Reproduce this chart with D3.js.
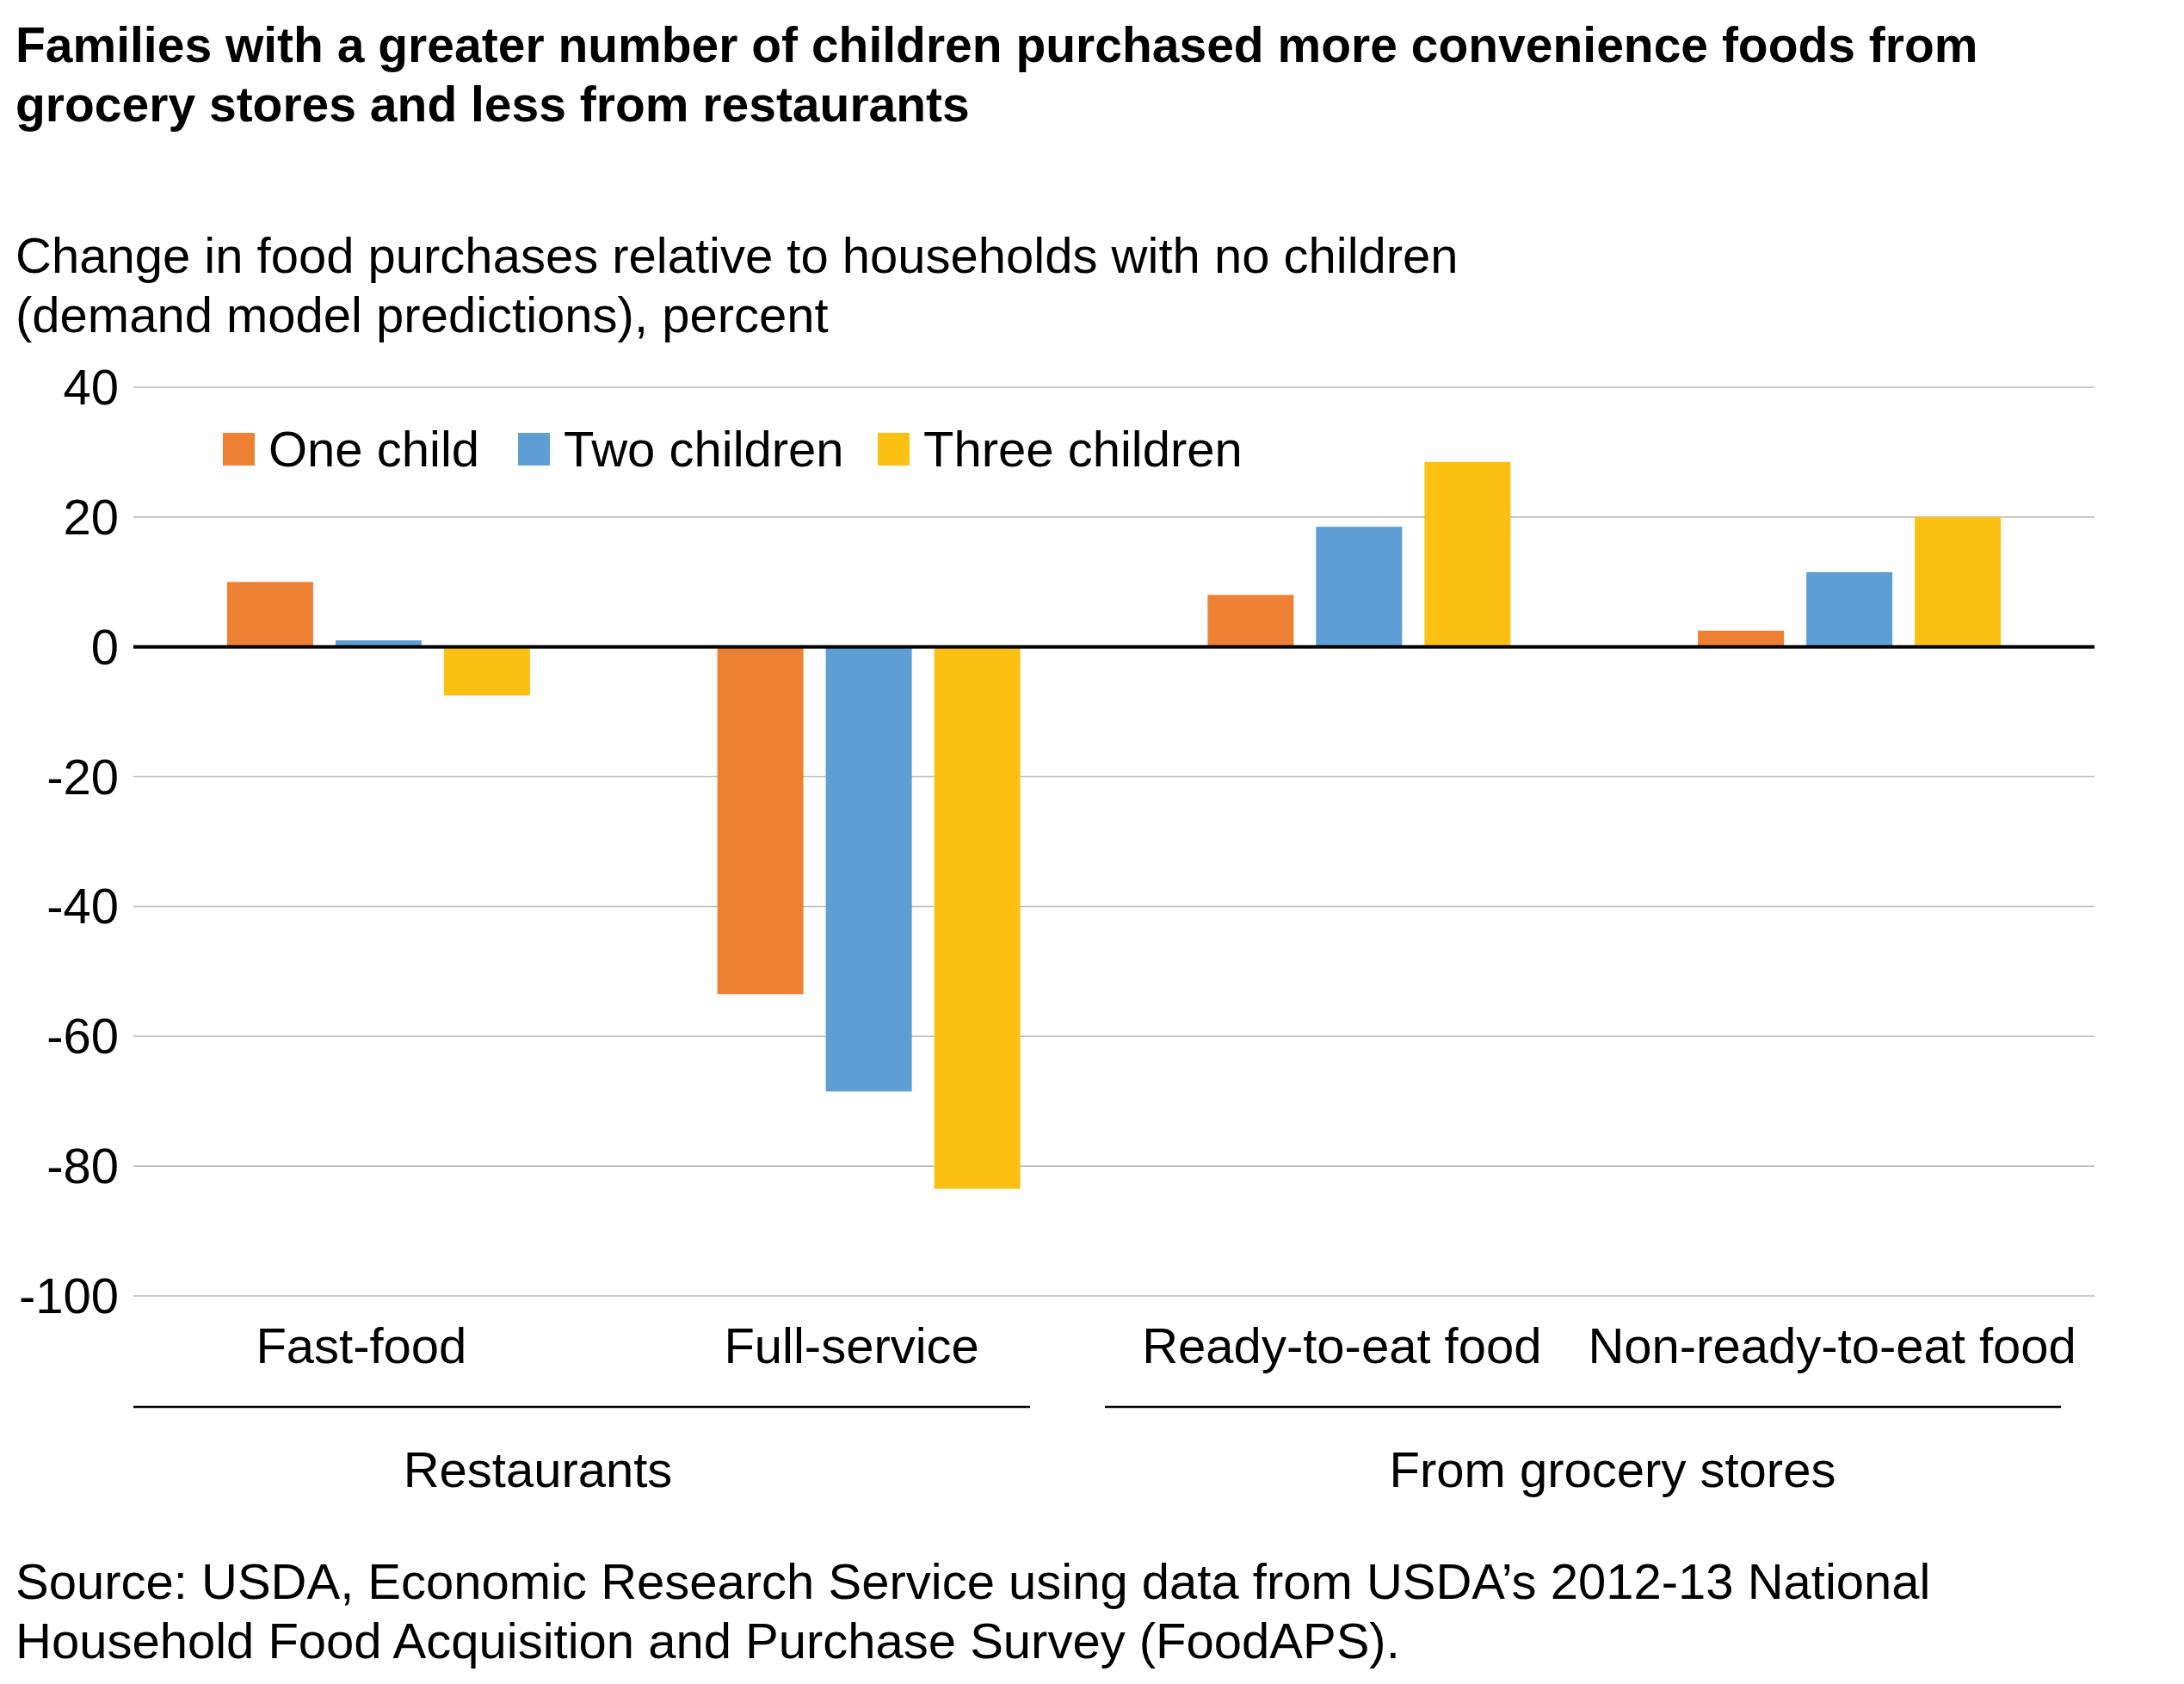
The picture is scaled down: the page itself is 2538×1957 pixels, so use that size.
<!DOCTYPE html>
<html><head><meta charset="utf-8">
<script src="https://cdn.jsdelivr.net/npm/d3@7"></script>
<style>body{margin:0;background:#fff}text{font-family:"Liberation Sans",Arial,sans-serif}</style>
</head><body><svg id="c" width="2538" height="1957"></svg>
<script>
const categories = ["Fast-food","Full-service","Ready-to-eat food","Non-ready-to-eat food"];
const seriesNames = ["One child","Two children","Three children"];
const oneChild = [10, -53.5, 8, 2.5];
const twoChildren = [1, -68.5, 18.5, 11.5];
const threeChildren = [-7.5, -83.5, 28.5, 20];
const yTicks = [40,20,0,-20,-40,-60,-80,-100];
const groups = [{name:"Restaurants", cats:[0,1]},{name:"From grocery stores", cats:[2,3]}];
const colors = ["#EE8034","#5F9ED4","#FCC013"];
const series = [oneChild, twoChildren, threeChildren];

const svg = d3.select("#c");
const L=155, R=2434, T=450, B=1506;
const x = d3.scaleBand().domain(categories).range([L,R]);
const y = d3.scaleLinear().domain([-100,40]).range([B,T]);
const barW = 100, barStep = 126;
const FS = 58;

svg.append("text").attr("x",18).attr("y",72).attr("font-size",57).attr("font-weight","bold").text("Families with a greater number of children purchased more convenience foods from");
svg.append("text").attr("x",18).attr("y",141).attr("font-size",57).attr("font-weight","bold").text("grocery stores and less from restaurants");
svg.append("text").attr("x",18).attr("y",317).attr("font-size",FS).text("Change in food purchases relative to households with no children");
svg.append("text").attr("x",18).attr("y",386).attr("font-size",FS).text("(demand model predictions), percent");

yTicks.forEach(t=>{
  if(t!==0) svg.append("line").attr("x1",L).attr("x2",R).attr("y1",y(t)).attr("y2",y(t)).attr("stroke","#bdbdbd").attr("stroke-width",1.6);
  svg.append("text").attr("x",138).attr("y",y(t)+20).attr("text-anchor","end").attr("font-size",FS).text(t);
});

categories.forEach((c,i)=>{
  const cx = x(c)+x.bandwidth()/2;
  series.forEach((s,j)=>{
    const v=s[i];
    const bx = cx + (j-1)*barStep - barW/2;
    svg.append("rect").attr("x",bx).attr("width",barW)
      .attr("y",y(Math.max(0,v))).attr("height",Math.abs(y(v)-y(0))).attr("fill",colors[j]);
  });
  svg.append("text").attr("x",cx-20).attr("y",1584).attr("text-anchor","middle").attr("font-size",FS).text(c);
});
svg.append("line").attr("x1",L).attr("x2",R).attr("y1",y(0)).attr("y2",y(0)).attr("stroke","#000").attr("stroke-width",4);

const gl=[[155,1197],[1284,2395]];
const gc=[625,1874];
groups.forEach((g,i)=>{
  svg.append("line").attr("x1",gl[i][0]).attr("x2",gl[i][1]).attr("y1",1635).attr("y2",1635).attr("stroke","#000").attr("stroke-width",2.5);
  svg.append("text").attr("x",gc[i]).attr("y",1728).attr("text-anchor","middle").attr("font-size",FS).text(g.name);
});

const lx=[259,602,1020];
seriesNames.forEach((n,j)=>{
  svg.append("rect").attr("x",lx[j]).attr("y",503).attr("width",37).attr("height",38).attr("fill",colors[j]);
  svg.append("text").attr("x",lx[j]+53).attr("y",542).attr("font-size",FS).text(n);
});

svg.append("text").attr("x",18).attr("y",1858).attr("font-size",FS).text("Source: USDA, Economic Research Service using data from USDA’s 2012-13 National");
svg.append("text").attr("x",18).attr("y",1927).attr("font-size",FS).text("Household Food Acquisition and Purchase Survey (FoodAPS).");
</script></body></html>
